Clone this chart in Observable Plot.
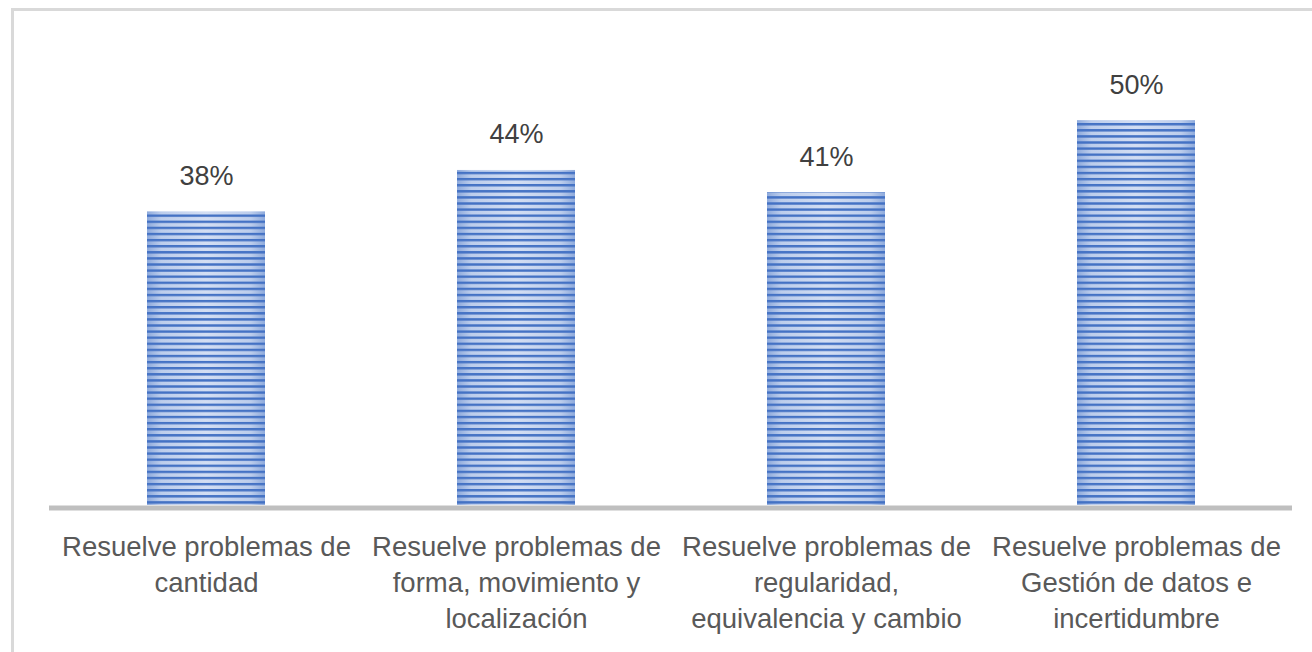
<!DOCTYPE html>
<html>
<head>
<meta charset="utf-8">
<script src="https://cdn.jsdelivr.net/npm/d3@7"></script>
<script src="https://cdn.jsdelivr.net/npm/@observablehq/plot@0.6"></script>
<style>
  html, body { margin: 0; padding: 0; background: #fff; overflow: hidden; }
  #wrap { position: relative; width: 1312px; height: 652px; }
  #frame { position: absolute; left: 11px; top: 8px; width: 1400px; height: 700px;
           border-top: 3px solid #d9d9d9; border-left: 3px solid #d9d9d9; box-sizing: border-box; }
  #chart { position: absolute; left: 0; top: 0; }
</style>
</head>
<body>
<div id="wrap"><div id="frame"></div><div id="chart"></div></div>
<script>
const categories = [
  "Resuelve problemas de\ncantidad",
  "Resuelve problemas de\nforma, movimiento y\nlocalización",
  "Resuelve problemas de\nregularidad,\nequivalencia y cambio",
  "Resuelve problemas de\nGestión de datos e\nincertidumbre"
];
const values = [38.3, 43.7, 40.8, 50.2];
const valueLabels = ["38%", "44%", "41%", "50%"];

const data = categories.map((c, i) => ({cat: c, value: values[i], label: valueLabels[i]}));

const defs = () => {
  const g = d3.create("svg:defs");
  g.html(`
    <linearGradient id="barGrad" x1="0" y1="0" x2="1" y2="0">
      <stop offset="0" stop-color="#8eaadc"/>
      <stop offset="0.12" stop-color="#bccdec"/>
      <stop offset="0.5" stop-color="#d3def3"/>
      <stop offset="0.88" stop-color="#bccdec"/>
      <stop offset="1" stop-color="#8eaadc"/>
    </linearGradient>
    <pattern id="stripes" patternUnits="userSpaceOnUse" x="0" y="1" width="10" height="6.1">
      <rect x="0" y="0" width="10" height="2.4" fill="#4472c4"/>
    </pattern>`);
  return g.node();
};

const chart = Plot.plot({
  width: 1312,
  height: 652,
  marginLeft: 49,
  marginRight: 20,
  marginTop: 45,
  marginBottom: 147,
  style: {fontFamily: "'Liberation Sans', Arial, sans-serif", background: "transparent", overflow: "visible"},
  x: {domain: categories, paddingInner: 0.62, paddingOuter: 0.31, label: null},
  y: {domain: [0, 60], axis: null},
  marks: [
    defs,
    Plot.barY(data, {x: "cat", y: "value", fill: "url(#barGrad)"}),
    Plot.barY(data, {x: "cat", y: "value", fill: "url(#stripes)"}),
    Plot.ruleY([0], {stroke: "#bfbfbf", strokeWidth: 5, dy: 2.5}),
    Plot.text(data, {x: "cat", y: "value", text: "label", dy: -27, lineAnchor: "bottom",
      fontSize: 27, fill: "#404040"}),
    Plot.axisX({tickSize: 0, tickPadding: 25, fontSize: 27.5, lineHeight: 1.31,
      fill: "#595959", label: null})
  ]
});
document.getElementById("chart").appendChild(chart);
</script>
</body>
</html>
